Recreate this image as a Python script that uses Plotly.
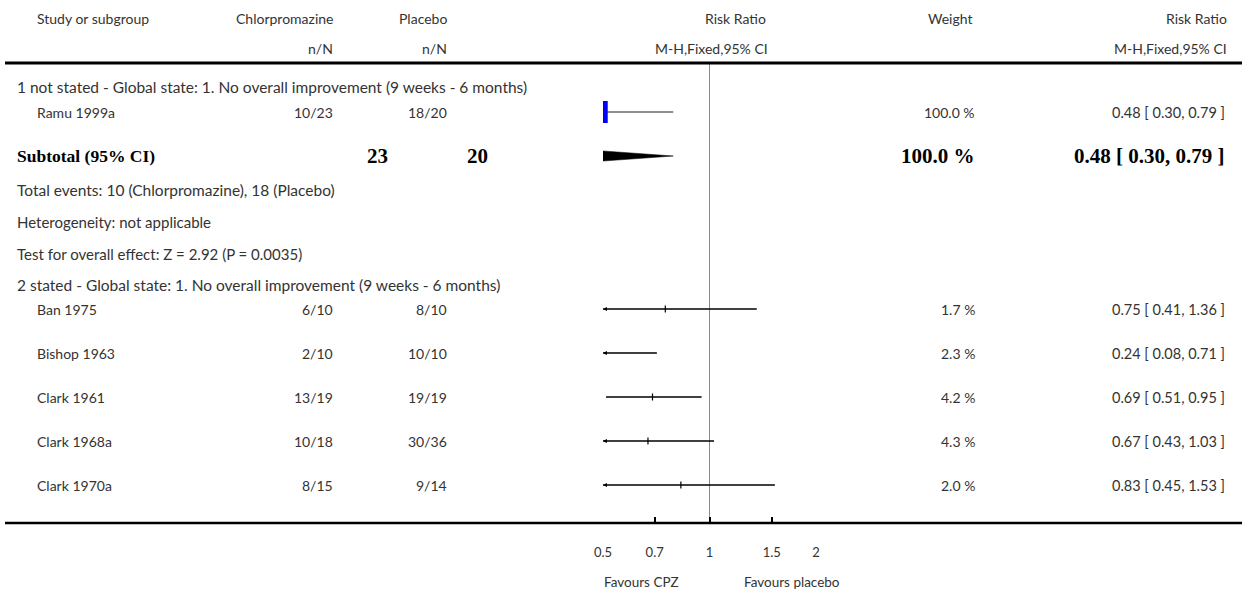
import math
import plotly.graph_objects as go

# ---------------- data ----------------
studies = ["Ramu 1999a", "Ban 1975", "Bishop 1963", "Clark 1961", "Clark 1968a", "Clark 1970a"]
cpz_events = ["10/23", "6/10", "2/10", "13/19", "10/18", "8/15"]
pla_events = ["18/20", "8/10", "10/10", "19/19", "30/36", "9/14"]
rr = [0.48, 0.75, 0.24, 0.69, 0.67, 0.83]
ci_lo = [0.30, 0.41, 0.08, 0.51, 0.43, 0.45]
ci_hi = [0.79, 1.36, 0.71, 0.95, 1.03, 1.53]
weights = [100.0, 1.7, 2.3, 4.2, 4.3, 2.0]

sub_rr = 0.48
sub_lo = 0.30
sub_hi = 0.79
sub_n_cpz = 23
sub_n_pla = 20
sub_weight = 100.0

tick_vals = [0.5, 0.7, 1, 1.5, 2]
tick_text = ["0.5", "0.7", "1", "1.5", "2"]

# ---------------- layout geometry (pixels) ----------------
W, H = 1242, 592
study_rows = [112, 309, 353, 397, 441, 485]
sub_row = 156
top_rule, bottom_rule = 63, 523
x_lo_px, x_hi_px = 603, 816
axis_min, axis_max = 0.5, 2.0

FONT = "Lato, 'Open Sans', sans-serif"
SERIF = "'Liberation Serif', 'DejaVu Serif', serif"
TXT = "#333333"

fig = go.Figure()

# vertical line of no effect
fig.add_trace(go.Scatter(x=[1, 1], y=[top_rule, bottom_rule], mode="lines",
                         line=dict(color="#8a8a8a", width=1), hoverinfo="skip"))

# confidence interval lines
for i in range(len(studies)):
    col = "#6a6a6a" if i == 0 else "black"
    fig.add_trace(go.Scatter(x=[ci_lo[i], ci_hi[i]], y=[study_rows[i]] * 2, mode="lines",
                             line=dict(color=col, width=1.5), hoverinfo="skip"))

# arrows for CIs extending past the axis
arr_x = [axis_min for i in range(len(studies)) if ci_lo[i] < axis_min]
arr_y = [study_rows[i] for i in range(len(studies)) if ci_lo[i] < axis_min]
fig.add_trace(go.Scatter(x=arr_x, y=arr_y, mode="markers",
                         marker=dict(symbol="arrow-left", size=4, color="black"),
                         hoverinfo="skip"))

# study point estimates
fig.add_trace(go.Scatter(x=[rr[0]], y=[study_rows[0]], mode="markers",
                         marker=dict(symbol="square", size=22, color="#0000ff", line=dict(width=0)),
                         hoverinfo="skip"))
fig.add_trace(go.Scatter(x=rr[1:], y=study_rows[1:], mode="markers",
                         marker=dict(symbol="line-ns", size=5, line=dict(color="black", width=1.2)),
                         hoverinfo="skip"))

# subtotal diamond
dh = 5.5
fig.add_trace(go.Scatter(x=[sub_lo, sub_rr, sub_hi, sub_rr, sub_lo],
                         y=[sub_row, sub_row - dh, sub_row, sub_row + dh, sub_row],
                         mode="lines", fill="toself", fillcolor="black",
                         line=dict(color="black", width=0.5), hoverinfo="skip"))

ann = []


def txt(x, y, s, anchor="left", size=14, color=TXT, family=FONT):
    ann.append(dict(x=x / W, y=y, xref="paper", yref="y", text=s, showarrow=False,
                    xanchor=anchor, yanchor="middle", borderpad=0, borderwidth=0,
                    font=dict(family=family, size=size, color=color)))


# header
txt(37, 18, "Study or subgroup")
txt(333, 18, "Chlorpromazine", "right")
txt(447, 18, "Placebo", "right")
txt(766, 18, "Risk Ratio", "right")
txt(972, 18, "Weight", "right")
txt(1227, 18, "Risk Ratio", "right")
txt(333, 48, "n/N", "right")
txt(447, 48, "n/N", "right")
txt(768, 48, "M-H,Fixed,95% CI", "right")
txt(1227, 48, "M-H,Fixed,95% CI", "right")

# subgroup headings
txt(17, 87, "1 not stated - Global state: 1. No overall improvement (9 weeks - 6 months)", size=15.5)
txt(17, 285, "2 stated - Global state: 1. No overall improvement (9 weeks - 6 months)", size=15.5)

for i in range(len(studies)):
    y = study_rows[i]
    txt(37, y, studies[i])
    txt(333, y, cpz_events[i], "right")
    txt(447, y, pla_events[i], "right")
    txt(975, y, f"{weights[i]:.1f} %", "right")
    txt(1225, y, f"{rr[i]:.2f} [ {ci_lo[i]:.2f}, {ci_hi[i]:.2f} ]", "right", size=14.5)

# subtotal
txt(17, sub_row, "<b>Subtotal (95% CI)</b>", size=17.5, color="black", family=SERIF)
txt(388, sub_row, f"<b>{sub_n_cpz}</b>", "right", size=21, color="black", family=SERIF)
txt(488, sub_row, f"<b>{sub_n_pla}</b>", "right", size=21, color="black", family=SERIF)
txt(975, sub_row, f"<b>{sub_weight:.1f} %</b>", "right", size=21, color="black", family=SERIF)
txt(1225, sub_row, f"<b>{sub_rr:.2f} [ {sub_lo:.2f}, {sub_hi:.2f} ]</b>", "right", size=21,
    color="black", family=SERIF)
txt(17, 190, "Total events: 10 (Chlorpromazine), 18 (Placebo)", size=15.5)
txt(17, 222, "Heterogeneity: not applicable", size=15)
txt(17, 254, "Test for overall effect: Z = 2.92 (P = 0.0035)", size=15)

# favours labels
txt(641, 582, "Favours CPZ", "center", size=13.5)
txt(792, 582, "Favours placebo", "center", size=13.5)

shapes = [
    dict(type="line", xref="paper", yref="y", x0=5 / W, x1=1.0, y0=top_rule, y1=top_rule,
         line=dict(color="black", width=3)),
    dict(type="line", xref="paper", yref="y", x0=5 / W, x1=1.0, y0=bottom_rule, y1=bottom_rule,
         line=dict(color="black", width=2.5)),
]

fig.update_layout(
    template="none",
    width=W, height=H, margin=dict(l=0, r=0, t=0, b=0, pad=0, autoexpand=False),
    paper_bgcolor="white", plot_bgcolor="white", showlegend=False,
    annotations=ann, shapes=shapes,
    xaxis=dict(type="log", range=[math.log10(axis_min), math.log10(axis_max)],
               domain=[x_lo_px / W, x_hi_px / W], anchor="free",
               position=(H - bottom_rule) / H, automargin=False,
               showgrid=False, zeroline=False, showline=False,
               ticks="inside", ticklen=6, tickwidth=2, tickcolor="black",
               tickvals=tick_vals, ticktext=tick_text,
               tickfont=dict(family=FONT, size=13, color=TXT),
               ticklabelstandoff=20),
    yaxis=dict(range=[H, 0], domain=[0, 1], visible=False, showgrid=False, zeroline=False,
               automargin=False),
)

fig.write_html("out.html", config={"displayModeBar": False},
               post_script="document.body.style.margin='0px';")
